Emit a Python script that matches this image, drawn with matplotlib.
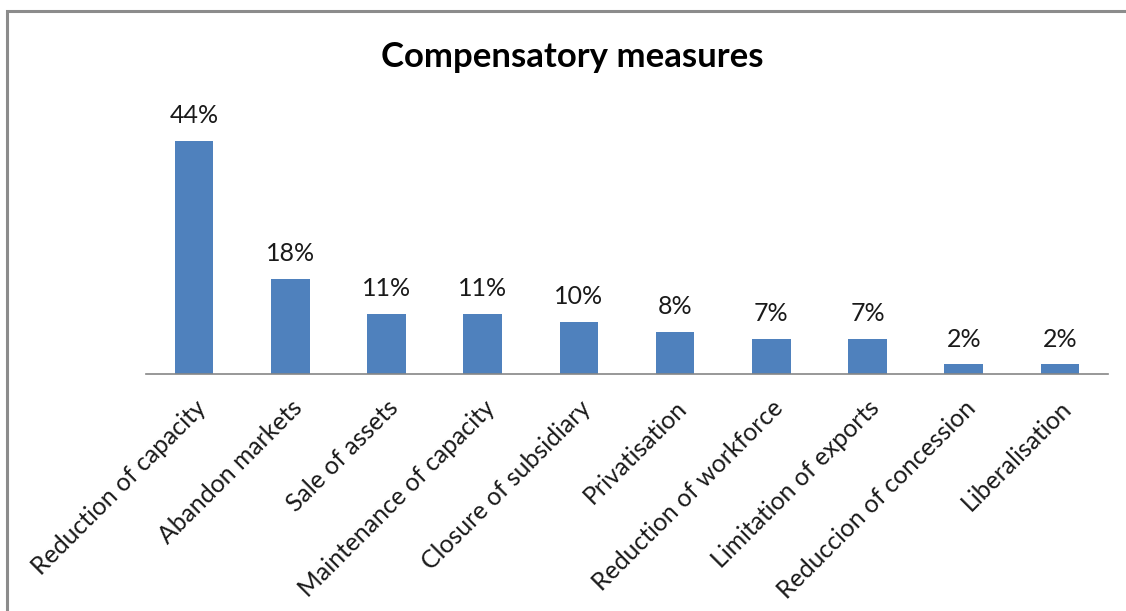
import matplotlib
matplotlib.use("Agg")
import matplotlib.pyplot as plt
from matplotlib.patches import Rectangle

categories = ["Reduction of capacity", "Abandon markets", "Sale of assets",
              "Maintenance of capacity", "Closure of subsidiary", "Privatisation",
              "Reduction of workforce", "Limitation of exports",
              "Reduccion of concession", "Liberalisation"]
values = [44, 18, 11.4, 11.4, 9.8, 8, 6.6, 6.6, 1.8, 1.8]
title = "Compensatory measures"

plt.rcParams['font.family'] = ['Lato', 'DejaVu Sans']

W, H = 1126, 611
fig = plt.figure(figsize=(W / 100, H / 100), dpi=100)
fig.patches.append(Rectangle((7 / W, -0.01), 1.1, 1 - 11 / H + 0.01,
                             transform=fig.transFigure, fill=False,
                             edgecolor='#8c8c8c', linewidth=2.2))

left, right = 146 / W, 1108 / W
bottom = 1 - 374 / H
top = 1 - 109 / H
ax = fig.add_axes([left, bottom, right - left, top - bottom])

x = list(range(len(categories)))
bars = ax.bar(x, values, width=0.4, color='#4F81BD')
ax.set_xlim(-0.5, len(categories) - 0.5)
ax.set_ylim(0, 50)
for b, v in zip(bars, values):
    ax.text(b.get_x() + b.get_width() / 2, v + 2.6, f"{v:.0f}%",
            ha='center', va='bottom', fontsize=18, color='#1a1a1a')

for s in ['top', 'right', 'left']:
    ax.spines[s].set_visible(False)
ax.spines['bottom'].set_color('#868686')
ax.spines['bottom'].set_linewidth(1.2)
ax.set_yticks([])
ax.set_xticks(x)
ax.set_xticklabels(categories, rotation=45, ha='right', rotation_mode='anchor',
                   fontsize=17.8, color='#1a1a1a')
ax.tick_params(axis='x', length=0, pad=16)

fig.text(572 / W, 1 - 57 / H, title, ha='center', va='center',
         fontsize=25, fontweight='bold', color='black')

fig.savefig("out.png", dpi=100)
